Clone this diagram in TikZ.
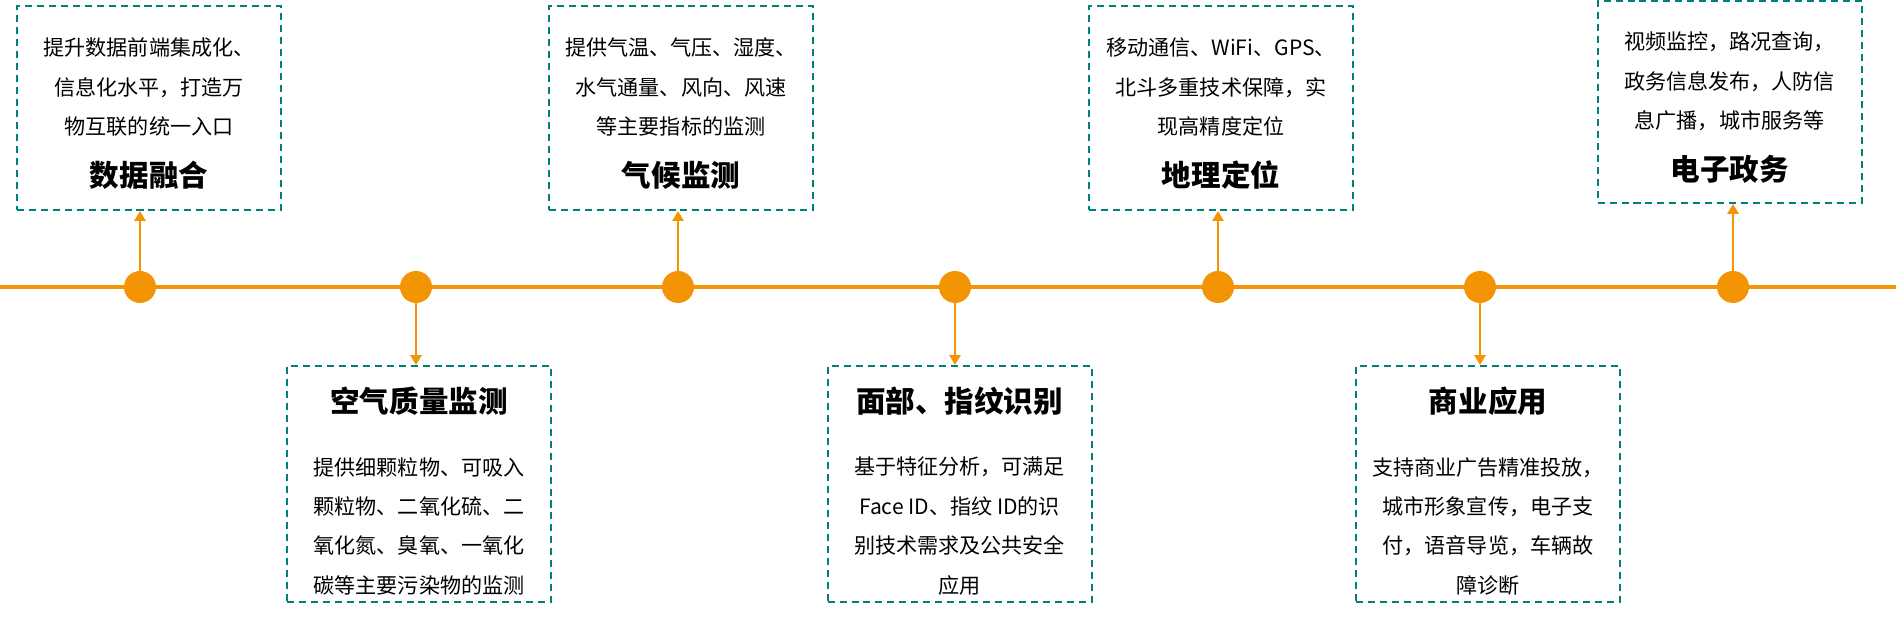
\documentclass[tikz,border=0pt]{standalone}
\usepackage{fontspec}
\setmainfont{Noto Sans CJK SC}
\usepackage{tikz}
\usetikzlibrary{arrows.meta}

\definecolor{lineorange}{RGB}{243,148,5}
\definecolor{boxteal}{RGB}{0,128,120}
\newcommand{\cardtitle}{\fontsize{21}{28}\selectfont\bfseries}
\newcommand{\cardpad}[1]{\rule{0pt}{#1}}

\begin{document}
\begin{tikzpicture}[    % define 'card' and the timeline here
    card/.style={
        draw=boxteal,
        line width=1.5pt,
        dash pattern=on 5pt off 3.5pt,
        minimum width=6.6cm,
        inner sep=0pt,
        align=center,
        font=\fontsize{15}{28}\selectfont
    },
    stopdot/.style={circle, fill=lineorange, minimum size=0.8cm, inner sep=0pt},
    timeline/.style={draw=lineorange, line width=3.4pt},
    link/.style={draw=lineorange, line width=1.4pt, -{Triangle[length=7pt,width=8pt]}}
]
    \useasboundingbox (0,0) rectangle (47.4,15.8);

    % The timeline
    \coordinate (start) at (0,8.625);
    \coordinate (end) at (47.4,8.625);
    \draw [timeline] (start) -- (end);

    % The stops on it
    \node [stopdot] (d1) at (3.5,8.625) {};
    \node [stopdot] (d2) at (10.4,8.625) {};
    \node [stopdot] (d3) at (16.95,8.625) {};
    \node [stopdot] (d4) at (23.875,8.625) {};
    \node [stopdot] (d5) at (30.45,8.625) {};
    \node [stopdot] (d6) at (37.0,8.625) {};
    \node [stopdot] (d7) at (43.325,8.625) {};

    % 1. Data fusion
    \node [card, minimum height=5.1cm] (b1) at (3.725,13.1) {
        \cardpad{21pt}提升数据前端集成化、\\
        信息化水平，打造万\\
        物互联的统一入口\\[9pt]
        {\cardtitle 数据融合}
    };

    % 2. Air quality
    \node [card, minimum height=5.9cm] (b2) at (10.475,3.7) {
        {\cardtitle\cardpad{28pt}空气质量监测}\\[16.5pt]
        提供细颗粒物、可吸入\\
        颗粒物、二氧化硫、二\\
        氧化氮、臭氧、一氧化\\
        碳等主要污染物的监测
    };

    % 3. Climate
    \node [card, minimum height=5.1cm] (b3) at (17.025,13.1) {
        \cardpad{21pt}提供气温、气压、湿度、\\
        水气通量、风向、风速\\
        等主要指标的监测\\[9pt]
        {\cardtitle 气候监测}
    };

    % 4. Face and fingerprint
    \node [card, minimum height=5.9cm] (b4) at (23.99,3.7) {
        {\cardtitle\cardpad{28pt}面部、指纹识别}\\[16.5pt]
        基于特征分析，可满足\\
        Face ID、指纹 ID的识\\
        别技术需求及公共安全\\
        应用
    };

    % 5. Positioning
    \node [card, minimum height=5.1cm] (b5) at (30.525,13.1) {
        \cardpad{21pt}移动通信、WiFi、GPS、\\
        北斗多重技术保障，实\\
        现高精度定位\\[9pt]
        {\cardtitle 地理定位}
    };

    % 6. Business
    \node [card, minimum height=5.9cm] (b6) at (37.2,3.7) {
        {\cardtitle\cardpad{28pt}商业应用}\\[16.5pt]
        支持商业广告精准投放，\\
        城市形象宣传，电子支\\
        付，语音导览，车辆故\\
        障诊断
    };

    % 7. E-government
    \node [card, minimum height=5.05cm] (b7) at (43.24,13.25) {
        \cardpad{21pt}视频监控，路况查询，\\
        政务信息发布，人防信\\
        息广播，城市服务等\\[9pt]
        {\cardtitle 电子政务}
    };

    % The connections
    \draw [link] (d1) -- (d1 |- b1.south);
    \draw [link] (d2) -- (d2 |- b2.north);
    \draw [link] (d3) -- (d3 |- b3.south);
    \draw [link] (d4) -- (d4 |- b4.north);
    \draw [link] (d5) -- (d5 |- b5.south);
    \draw [link] (d6) -- (d6 |- b6.north);
    \draw [link] (d7) -- (d7 |- b7.south);

\end{tikzpicture}
\end{document}
